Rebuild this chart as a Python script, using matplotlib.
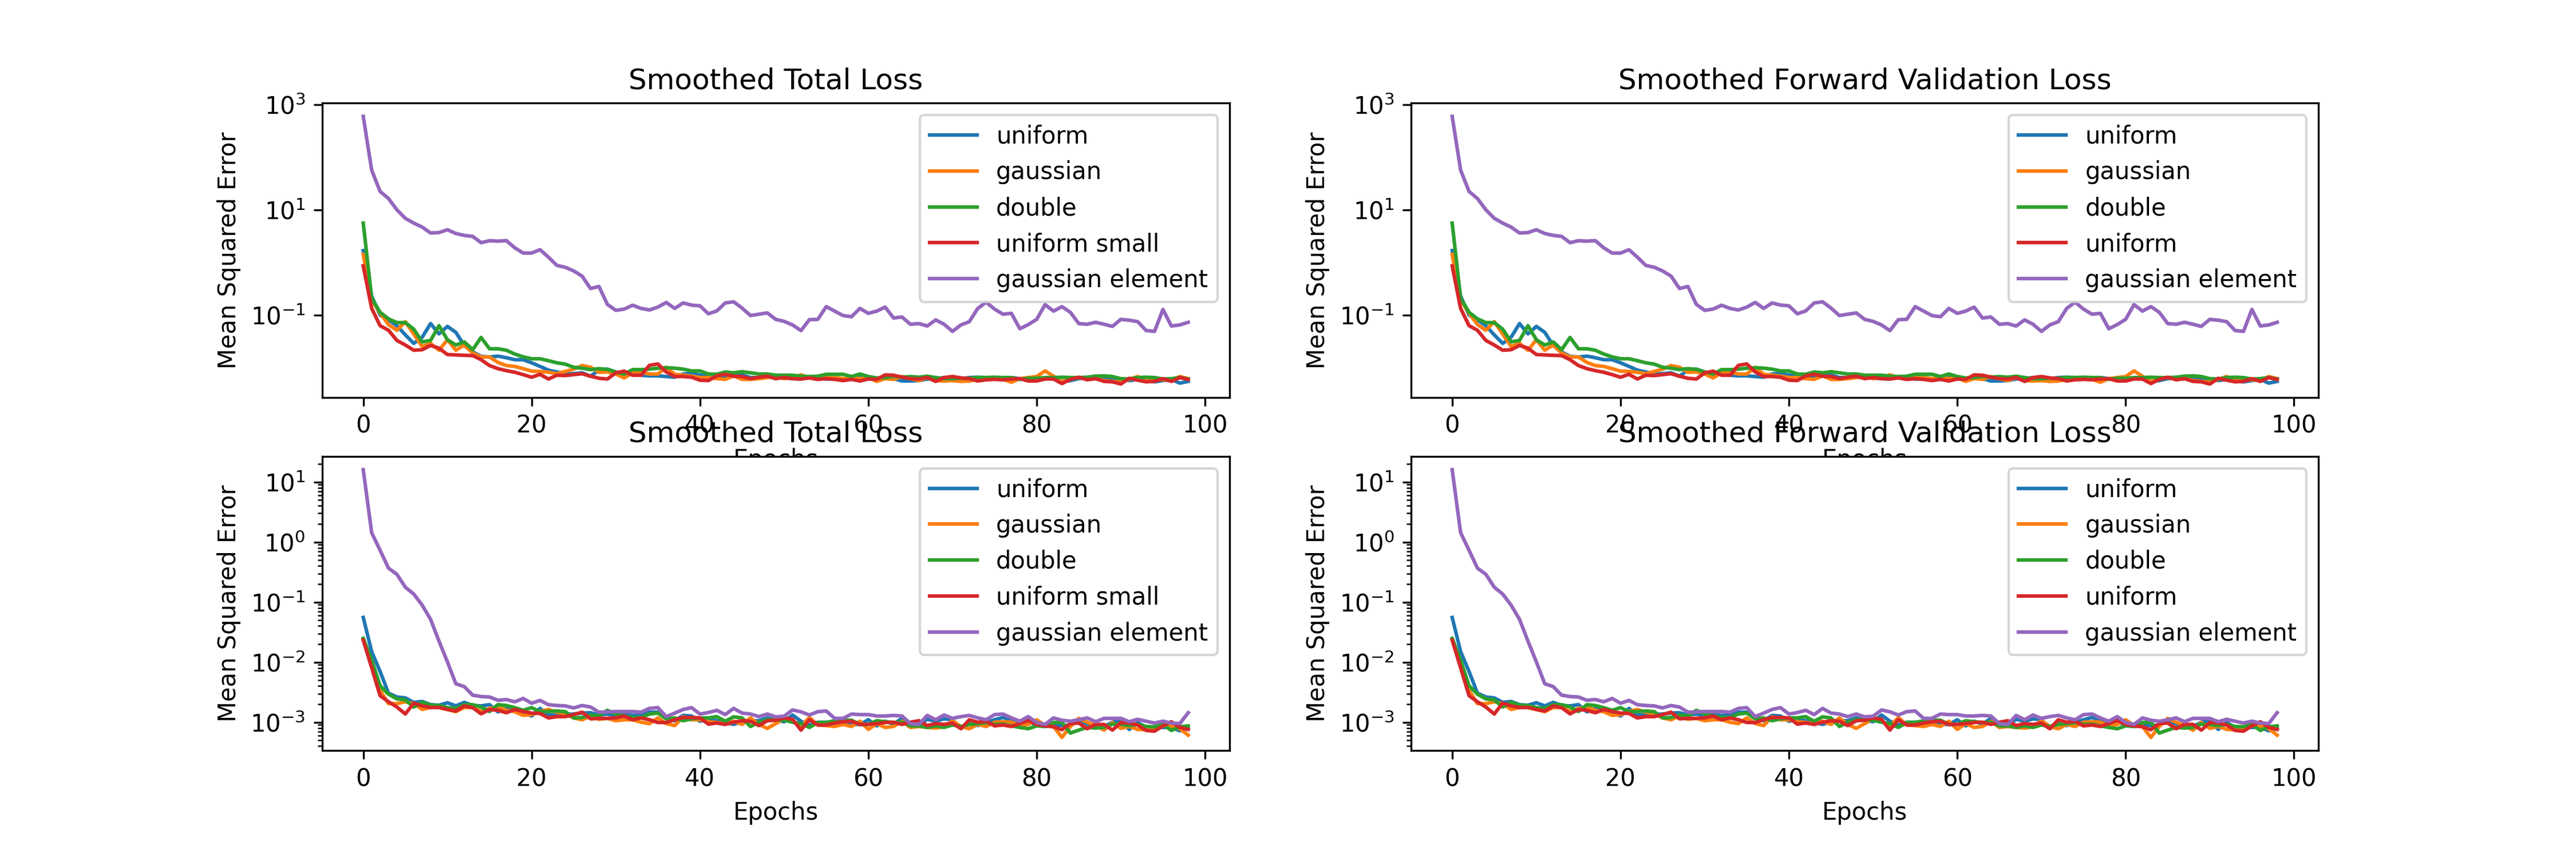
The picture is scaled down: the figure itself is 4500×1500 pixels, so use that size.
import numpy as np
import matplotlib
matplotlib.use('Agg')
import matplotlib.pyplot as plt
from matplotlib.ticker import NullLocator

# 에폭 (0 ~ 98)
epochs = list(range(99))

# 위쪽 행: smoothed total / forward validation loss
top_uniform = [
    1.68, 0.23, 0.10, 0.081, 0.063, 0.042, 0.029, 0.038, 0.069, 0.044,
    0.061, 0.047, 0.0265, 0.020, 0.0164, 0.016, 0.0166, 0.0155, 0.0142, 0.0142,
    0.0124, 0.0106, 0.0090, 0.0083, 0.0076, 0.0077, 0.0080, 0.0069, 0.0090, 0.0094,
    0.0083, 0.0074, 0.0076, 0.0072, 0.0070, 0.0070, 0.0068, 0.0066, 0.0076, 0.0078,
    0.0073, 0.0068, 0.0073, 0.0065, 0.0072, 0.0073, 0.0065, 0.0065, 0.0068, 0.0065,
    0.0064, 0.0062, 0.0061, 0.0068, 0.0065, 0.0061, 0.0061, 0.0060, 0.0062, 0.0068,
    0.0065, 0.0056, 0.0065, 0.0062, 0.0056, 0.0056, 0.0057, 0.0061, 0.0062, 0.0065,
    0.0065, 0.0062, 0.0065, 0.0066, 0.0065, 0.0065, 0.0065, 0.0065, 0.0062, 0.0062,
    0.0063, 0.0062, 0.0065, 0.0055, 0.0057, 0.0062, 0.0065, 0.0069, 0.0061, 0.0062,
    0.0061, 0.0057, 0.0060, 0.0056, 0.0054, 0.0057, 0.0060, 0.0051, 0.0055]
top_gaussian = [
    1.42, 0.195, 0.109, 0.066, 0.0515, 0.075, 0.0437, 0.0254, 0.029, 0.0215,
    0.034, 0.0215, 0.027, 0.019, 0.016, 0.016, 0.0126, 0.011, 0.0106, 0.0096,
    0.0086, 0.0085, 0.0082, 0.0077, 0.0085, 0.0094, 0.011, 0.0102, 0.0082, 0.0083,
    0.0076, 0.0064, 0.0080, 0.0082, 0.0076, 0.0076, 0.0102, 0.0075, 0.0072, 0.0069,
    0.0065, 0.0065, 0.0062, 0.0060, 0.0070, 0.0060, 0.0060, 0.0062, 0.0065, 0.0069,
    0.0062, 0.0065, 0.0073, 0.0065, 0.0065, 0.0066, 0.0065, 0.0062, 0.0065, 0.0062,
    0.0065, 0.0055, 0.0062, 0.0060, 0.0068, 0.0062, 0.0057, 0.0065, 0.0057, 0.0056,
    0.0057, 0.0055, 0.0056, 0.0060, 0.0061, 0.0062, 0.0060, 0.0053, 0.0062, 0.0065,
    0.0068, 0.0087, 0.0069, 0.0054, 0.0062, 0.0065, 0.0061, 0.0062, 0.0057, 0.0055,
    0.0053, 0.0060, 0.0068, 0.0057, 0.0061, 0.0059, 0.0057, 0.0068, 0.0062]
top_double = [
    5.6, 0.21, 0.113, 0.085, 0.072, 0.072, 0.054, 0.031, 0.033, 0.063,
    0.034, 0.027, 0.031, 0.022, 0.0376, 0.0229, 0.0229, 0.0215, 0.0182, 0.0161,
    0.0148, 0.0148, 0.0136, 0.0124, 0.0117, 0.0102, 0.0098, 0.0092, 0.0096, 0.0093,
    0.0083, 0.0076, 0.0092, 0.0092, 0.0094, 0.0098, 0.0100, 0.0098, 0.0094, 0.0087,
    0.0087, 0.0076, 0.0075, 0.0083, 0.0080, 0.0084, 0.0080, 0.0076, 0.0076, 0.0072,
    0.0072, 0.0072, 0.0069, 0.0068, 0.0069, 0.0075, 0.0075, 0.0075, 0.0068, 0.0076,
    0.0068, 0.0064, 0.0065, 0.0069, 0.0066, 0.0068, 0.0066, 0.0069, 0.0065, 0.0062,
    0.0062, 0.0063, 0.0063, 0.0065, 0.0065, 0.0066, 0.0065, 0.0065, 0.0060, 0.0063,
    0.0063, 0.0065, 0.0065, 0.0066, 0.0065, 0.0065, 0.0066, 0.0069, 0.0070, 0.0068,
    0.0062, 0.0061, 0.0065, 0.0066, 0.0065, 0.0061, 0.0062, 0.0065, 0.0061]
top_uniform_small = [
    0.86, 0.134, 0.063, 0.0515, 0.033, 0.027, 0.0215, 0.022, 0.0265, 0.0235,
    0.0178, 0.0175, 0.0172, 0.017, 0.0142, 0.011, 0.0096, 0.0088, 0.0082, 0.0074,
    0.0066, 0.0075, 0.0061, 0.0072, 0.0071, 0.0074, 0.0077, 0.0069, 0.0063, 0.0061,
    0.0080, 0.0086, 0.0072, 0.0072, 0.0111, 0.0118, 0.0083, 0.0068, 0.0068, 0.0066,
    0.0058, 0.0057, 0.0070, 0.0075, 0.0069, 0.0068, 0.0062, 0.0066, 0.0069, 0.0062,
    0.0065, 0.0062, 0.0061, 0.0064, 0.0060, 0.0062, 0.0060, 0.0057, 0.0060, 0.0056,
    0.0061, 0.0060, 0.0073, 0.0072, 0.0066, 0.0062, 0.0061, 0.0065, 0.0055, 0.0065,
    0.0068, 0.0064, 0.0062, 0.0056, 0.0059, 0.0060, 0.0059, 0.0061, 0.0062, 0.0056,
    0.0056, 0.0061, 0.0061, 0.0050, 0.0060, 0.0066, 0.0059, 0.0062, 0.0055, 0.0054,
    0.0049, 0.0063, 0.0058, 0.0054, 0.0055, 0.0062, 0.0055, 0.0065, 0.0060]
top_gauss_elem = [
    598, 57, 22.4, 16.4, 10.0, 6.9, 5.6, 4.7, 3.63, 3.7,
    4.19, 3.55, 3.27, 3.13, 2.38, 2.59, 2.54, 2.6, 1.9, 1.51,
    1.51, 1.75, 1.26, 0.88, 0.81, 0.69, 0.55, 0.32, 0.35, 0.16,
    0.123, 0.13, 0.154, 0.134, 0.125, 0.142, 0.174, 0.134, 0.17, 0.155,
    0.15, 0.106, 0.12, 0.17, 0.179, 0.136, 0.098, 0.104, 0.11, 0.083,
    0.076, 0.065, 0.0507, 0.082, 0.083, 0.145, 0.119, 0.098, 0.093, 0.134,
    0.108, 0.119, 0.142, 0.088, 0.092, 0.067, 0.069, 0.062, 0.081, 0.067,
    0.049, 0.065, 0.075, 0.134, 0.176, 0.13, 0.104, 0.108, 0.055, 0.066,
    0.083, 0.158, 0.119, 0.145, 0.113, 0.069, 0.067, 0.073, 0.067, 0.061,
    0.083, 0.080, 0.075, 0.051, 0.049, 0.128, 0.062, 0.065, 0.073]

# 아래쪽 행
bot_uniform = [
    0.0555, 0.0150, 0.0070, 0.00304, 0.00263, 0.00254, 0.00214, 0.00222, 0.00196, 0.00192,
    0.00211, 0.00187, 0.00214, 0.0019, 0.00187, 0.00196, 0.00149, 0.0017, 0.00154, 0.00144,
    0.00127, 0.0017, 0.00132, 0.00132, 0.00135, 0.00137, 0.00142, 0.00144, 0.00132, 0.00137,
    0.00127, 0.00134, 0.0013, 0.00134, 0.00147, 0.00147, 0.00116, 0.00106, 0.0013, 0.00127,
    0.00104, 0.0011, 0.00106, 0.00099, 0.00092, 0.00102, 0.00106, 0.00106, 0.00118, 0.00108,
    0.00102, 0.00132, 0.00104, 0.0009, 0.001, 0.001, 0.001, 0.00102, 0.00092, 0.00092,
    0.0011, 0.00087, 0.00104, 0.00093, 0.00116, 0.00095, 0.0009, 0.00112, 0.00104, 0.00114,
    0.0011, 0.00079, 0.00095, 0.00088, 0.00099, 0.0011, 0.0012, 0.00108, 0.001, 0.00102,
    0.0009, 0.00085, 0.0009, 0.00088, 0.0009, 0.00108, 0.00093, 0.00082, 0.00085, 0.001,
    0.00106, 0.00076, 0.00099, 0.00082, 0.00082, 0.00082, 0.00082, 0.00072, 0.00079]
bot_gaussian = [
    0.024, 0.0099, 0.00339, 0.00204, 0.00204, 0.00219, 0.00204, 0.00163, 0.00176, 0.00176,
    0.00163, 0.0015, 0.00176, 0.00176, 0.00151, 0.0017, 0.00179, 0.00158, 0.0015, 0.0013,
    0.00134, 0.00151, 0.00163, 0.00147, 0.00137, 0.00118, 0.0011, 0.00127, 0.00112, 0.00116,
    0.00106, 0.0011, 0.0011, 0.001, 0.00095, 0.00118, 0.00095, 0.00088, 0.00123, 0.0011,
    0.0011, 0.00102, 0.00099, 0.00095, 0.00104, 0.00092, 0.00118, 0.00092, 0.00079, 0.00095,
    0.00114, 0.00104, 0.00085, 0.0012, 0.0009, 0.00088, 0.00085, 0.00092, 0.00085, 0.00104,
    0.00076, 0.00095, 0.00082, 0.00085, 0.00104, 0.00082, 0.00085, 0.00082, 0.0008, 0.00084,
    0.00106, 0.00085, 0.00078, 0.00092, 0.00085, 0.001, 0.00102, 0.001, 0.00088, 0.00092,
    0.0011, 0.00088, 0.00085, 0.00056, 0.00085, 0.00116, 0.001, 0.00088, 0.00074, 0.00099,
    0.00079, 0.00085, 0.00076, 0.00075, 0.00079, 0.00087, 0.00085, 0.00078, 0.00061]
bot_double = [
    0.0249, 0.0108, 0.00406, 0.00293, 0.00245, 0.00236, 0.00179, 0.00215, 0.00192, 0.0019,
    0.00175, 0.0017, 0.00196, 0.00196, 0.00179, 0.00151, 0.00196, 0.0019, 0.00175, 0.00158,
    0.00175, 0.0015, 0.00151, 0.00154, 0.0015, 0.00118, 0.0012, 0.00132, 0.00127, 0.00158,
    0.00137, 0.00127, 0.0012, 0.0012, 0.00137, 0.00142, 0.00114, 0.00118, 0.00106, 0.00114,
    0.00118, 0.00118, 0.00124, 0.00104, 0.00123, 0.00118, 0.00085, 0.001, 0.0011, 0.0011,
    0.00108, 0.001, 0.00095, 0.00082, 0.00099, 0.00099, 0.00106, 0.00108, 0.00108, 0.00092,
    0.00092, 0.00106, 0.00102, 0.00099, 0.001, 0.00087, 0.00087, 0.00082, 0.00087, 0.00082,
    0.0009, 0.00085, 0.00092, 0.00095, 0.00099, 0.00092, 0.00093, 0.00087, 0.00082, 0.00078,
    0.00087, 0.00085, 0.00099, 0.001, 0.00066, 0.00074, 0.00082, 0.0008, 0.00082, 0.00093,
    0.00092, 0.00088, 0.00092, 0.00085, 0.00084, 0.00092, 0.00073, 0.00084, 0.00087]
bot_uniform_small = [
    0.0232, 0.0081, 0.00277, 0.00219, 0.00179, 0.00137, 0.00208, 0.00187, 0.00176, 0.00176,
    0.00163, 0.00154, 0.00187, 0.00175, 0.00138, 0.00163, 0.00158, 0.00144, 0.00163, 0.00151,
    0.00142, 0.0014, 0.00118, 0.00124, 0.00124, 0.00134, 0.00147, 0.00114, 0.00116, 0.00116,
    0.00118, 0.00127, 0.0011, 0.00118, 0.0011, 0.00099, 0.00099, 0.0011, 0.0012, 0.0012,
    0.00118, 0.00093, 0.00097, 0.00092, 0.001, 0.00106, 0.00104, 0.00088, 0.00106, 0.00108,
    0.00118, 0.00112, 0.00074, 0.0011, 0.0009, 0.0009, 0.00097, 0.00102, 0.00104, 0.00092,
    0.00092, 0.00095, 0.00099, 0.001, 0.00092, 0.001, 0.00106, 0.00088, 0.00095, 0.00092,
    0.00097, 0.00078, 0.0011, 0.001, 0.00104, 0.00087, 0.0009, 0.00085, 0.00095, 0.00108,
    0.00092, 0.00087, 0.00084, 0.00075, 0.00095, 0.00097, 0.00078, 0.00092, 0.00092, 0.00074,
    0.00099, 0.00097, 0.0009, 0.00073, 0.00071, 0.00087, 0.00102, 0.00082, 0.00076]
bot_gauss_elem = [
    16.0, 1.43, 0.73, 0.367, 0.29, 0.177, 0.136, 0.089, 0.0516, 0.0224,
    0.0101, 0.00437, 0.00392, 0.00282, 0.00268, 0.00263, 0.00232, 0.00239, 0.00219, 0.00249,
    0.00207, 0.00231, 0.00196, 0.0019, 0.00187, 0.00173, 0.0019, 0.00179, 0.00147, 0.00149,
    0.00151, 0.0015, 0.00151, 0.00147, 0.0017, 0.00175, 0.00124, 0.00142, 0.00163, 0.00175,
    0.00137, 0.00145, 0.00158, 0.00134, 0.0017, 0.00142, 0.00137, 0.00124, 0.00137, 0.00123,
    0.00126, 0.0016, 0.00149, 0.00132, 0.0015, 0.00154, 0.00116, 0.00116, 0.00137, 0.00134,
    0.00134, 0.00127, 0.00127, 0.0013, 0.00127, 0.00095, 0.00092, 0.0013, 0.0011, 0.00132,
    0.00116, 0.00124, 0.0013, 0.00118, 0.0011, 0.00134, 0.00137, 0.00118, 0.00104, 0.00124,
    0.00099, 0.00092, 0.00118, 0.00108, 0.00104, 0.0011, 0.00118, 0.00102, 0.00116, 0.00116,
    0.00116, 0.00102, 0.00112, 0.00104, 0.00097, 0.00104, 0.00097, 0.00095, 0.00144]

left_labels = ['uniform', 'gaussian', 'double', 'uniform small', 'gaussian element']
right_labels = ['uniform', 'gaussian', 'double', 'uniform', 'gaussian element']
titles = ['Smoothed Total Loss', 'Smoothed Forward Validation Loss']
top_yticks = [1e-1, 1e1, 1e3]  # 위쪽 행은 두 자릿수 간격 눈금만 표시

top_rows = [top_uniform, top_gaussian, top_double, top_uniform_small, top_gauss_elem]
bot_rows = [bot_uniform, bot_gaussian, bot_double, bot_uniform_small, bot_gauss_elem]

fig, axes = plt.subplots(2, 2, figsize=(15, 5))
plt.subplots_adjust(bottom=0.125)

for r, rows in enumerate([top_rows, bot_rows]):
    for c, labels in enumerate([left_labels, right_labels]):
        ax = axes[r][c]
        for series, lab in zip(rows, labels):
            ax.plot(epochs, series, label=lab)
        ax.set_yscale('log')
        if r == 0:
            ax.set_yticks(top_yticks)
            ax.yaxis.set_minor_locator(NullLocator())
        ax.set_title(titles[c])
        ax.set_xlabel('Epochs')
        ax.set_ylabel('Mean Squared Error')
        ax.legend(loc='upper right')

plt.savefig('out.png', dpi=300)
